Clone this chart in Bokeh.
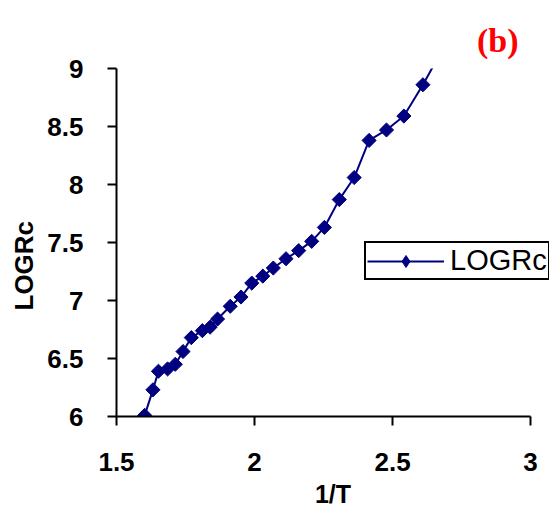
import math
from bokeh.plotting import figure
from bokeh.models import Range1d, Legend, LegendItem, ColumnDataSource, FixedTicker, Title
from bokeh.embed import file_html
from bokeh.resources import INLINE

# Data
inv_t = [1.602, 1.632, 1.652, 1.685, 1.713, 1.741, 1.771, 1.811, 1.839, 1.866,
         1.912, 1.951, 1.990, 2.030, 2.068, 2.114, 2.160, 2.207, 2.253, 2.307,
         2.361, 2.415, 2.478, 2.541, 2.610, 2.680]
log_rc = [6.01, 6.23, 6.39, 6.41, 6.45, 6.56, 6.68, 6.74, 6.77, 6.84,
          6.95, 7.03, 7.15, 7.21, 7.28, 7.36, 7.43, 7.51, 7.63, 7.87,
          8.06, 8.38, 8.47, 8.59, 8.86, 9.16]
x_ticks = [1.5, 2, 2.5, 3]
y_ticks = [6, 6.5, 7, 7.5, 8, 8.5, 9]
series_name = "LOGRc"
x_label = "1/T"
y_label = "LOGRc"
panel_tag = "(b)"

NAVY = "#000080"
FONT = "Liberation Sans"

# frame spans 114..549 px; the axis itself stops at 3
X_END = 1.5 + 435 / (416 / 1.5)

p = figure(width=551, height=510, output_backend="svg", toolbar_location=None,
           x_range=Range1d(1.5, X_END), y_range=Range1d(6, 9),
           min_border_left=114, min_border_right=2, min_border_top=68,
           min_border_bottom=91)
p.outline_line_color = None
p.xgrid.visible = False
p.ygrid.visible = False
p.background_fill_color = "white"
p.border_fill_color = "white"

p.title.text = panel_tag
p.title.align = "right"
p.title.text_color = "#ff0000"
p.title.text_font = "Liberation Serif"
p.title.text_font_style = "bold"
p.title.text_font_size = "34px"
p.title.offset = 31
p.title.standoff = 20

src = ColumnDataSource(dict(x=inv_t, y=log_rc))
ln = p.line("x", "y", source=src, line_color=NAVY, line_width=2)
mk = p.scatter("x", "y", source=src, marker="square", angle=math.pi / 4,
               size=10, fill_color=NAVY, line_color=NAVY)
# hidden renderer only providing the diamond symbol of the legend
lg_mk = p.scatter("x", "y", source=src, marker="diamond", size=14,
                  fill_color=NAVY, line_color=NAVY, visible=False)

for ax, ticks in ((p.xaxis[0], x_ticks), (p.yaxis[0], y_ticks)):
    ax.ticker = FixedTicker(ticks=ticks)
    ax.axis_line_color = "black"
    ax.axis_line_width = 2
    ax.major_tick_line_color = "black"
    ax.major_tick_line_width = 2
    ax.major_tick_out = 9
    ax.major_tick_in = 0
    ax.minor_tick_line_color = None
    ax.major_label_text_font = FONT
    ax.major_label_text_font_style = "bold"
    ax.major_label_text_font_size = "26px"
    ax.major_label_text_color = "black"
    ax.axis_label_text_font = FONT
    ax.axis_label_text_font_style = "bold"
    ax.axis_label_text_font_size = "25px"
    ax.axis_label_text_color = "black"

p.xaxis[0].bounds = (1.5, 3)
p.xaxis[0].major_label_standoff = 27
p.yaxis[0].major_label_standoff = 24
p.xaxis[0].axis_label = x_label
p.xaxis[0].axis_label_standoff = 6

# y-axis title, placed a little below the frame centre as in the reference
ytitle = Title(text=y_label, align="left", offset=106, standoff=12,
               text_font=FONT, text_font_style="bold", text_font_size="26px",
               text_color="black")
p.add_layout(ytitle, "left")

legend = Legend(items=[LegendItem(label=series_name, renderers=[ln, lg_mk])],
                location=(248, 136), orientation="vertical",
                glyph_width=77, glyph_height=30, label_standoff=6,
                padding=1, margin=0, spacing=0,
                label_text_font=FONT, label_text_font_size="29px",
                label_text_color="black", label_height=20,
                border_line_color="black", border_line_width=2,
                border_line_alpha=1,
                background_fill_color="white", background_fill_alpha=1,
                inactive_fill_alpha=0)
p.add_layout(legend, "center")

open("out.html", "w").write(file_html(p, INLINE))
